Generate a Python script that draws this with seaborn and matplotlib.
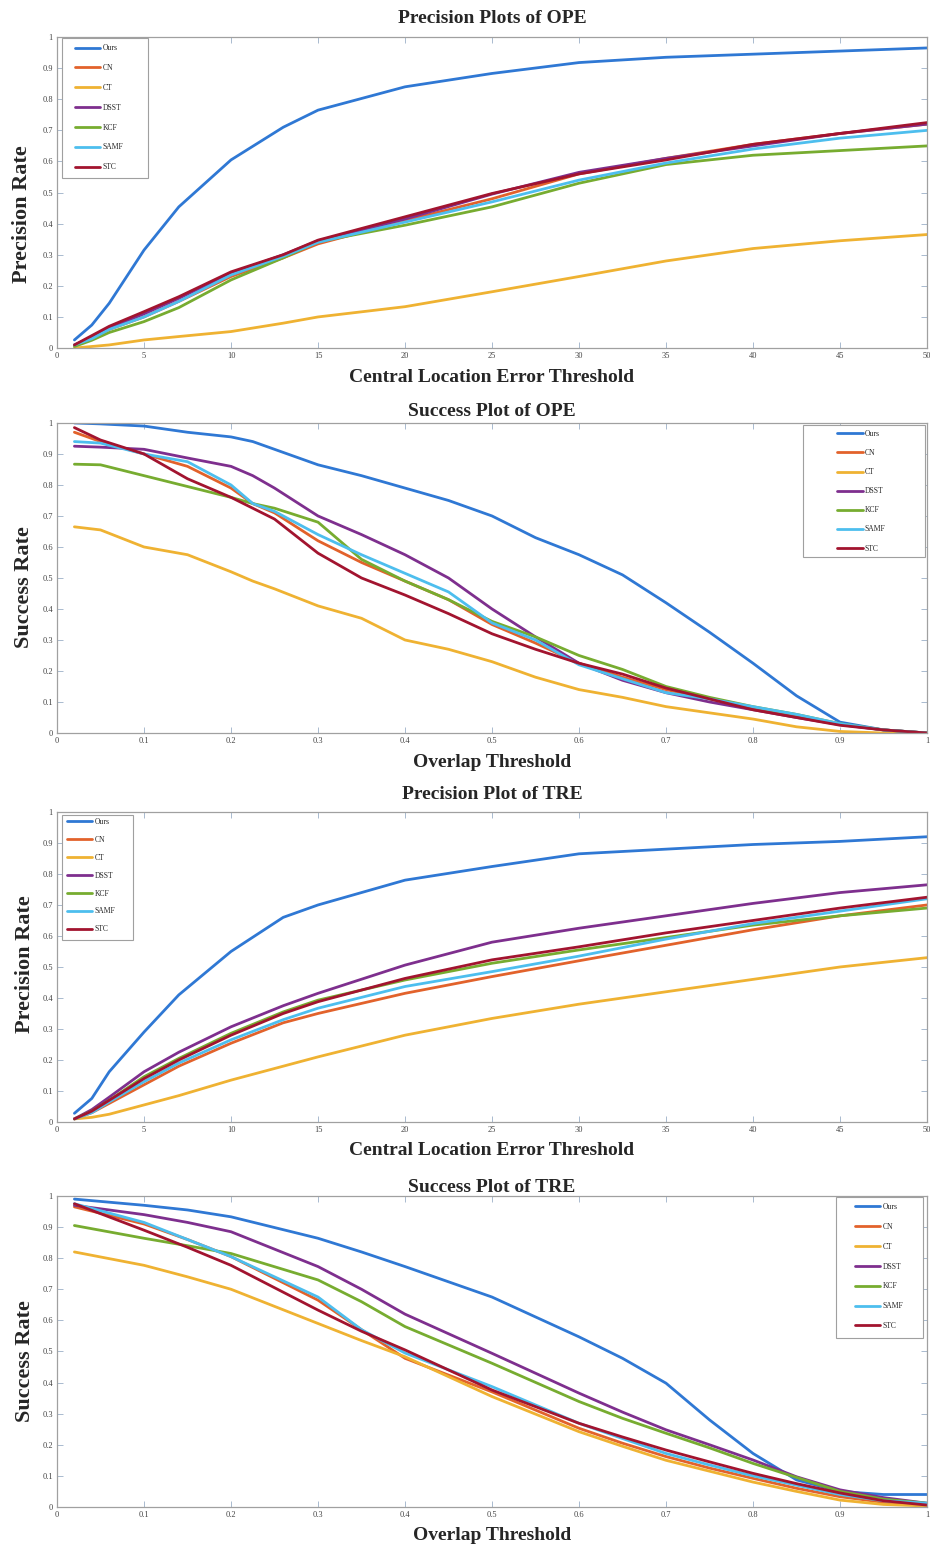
import numpy as np
import pandas as pd
import matplotlib
matplotlib.use("Agg")
import matplotlib.pyplot as plt
from matplotlib.patches import Rectangle
import seaborn as sns

trackers = ["Ours", "CN", "CT", "DSST", "KCF", "SAMF", "STC"]
colors = ["#2f78d4", "#e2622b", "#efb232", "#7e2f8e", "#77ac30", "#4dbeee", "#a2142f"]

# ---- Precision plot of OPE ----
prec_x = [1, 2, 3, 5, 7, 10, 13, 15, 20, 25, 30, 35, 40, 45, 50]
ope_prec_ours = [0.026, 0.074, 0.144, 0.315, 0.454, 0.605, 0.71, 0.765, 0.84, 0.883, 0.918, 0.935, 0.945, 0.955, 0.965]
ope_prec_cn   = [0.01, 0.03, 0.06, 0.10, 0.15, 0.23, 0.29, 0.335, 0.41, 0.48, 0.56, 0.61, 0.655, 0.69, 0.72]
ope_prec_ct   = [0.0, 0.005, 0.01, 0.026, 0.037, 0.053, 0.08, 0.10, 0.133, 0.181, 0.23, 0.28, 0.32, 0.345, 0.365]
ope_prec_dsst = [0.01, 0.035, 0.065, 0.11, 0.16, 0.24, 0.30, 0.345, 0.415, 0.495, 0.565, 0.61, 0.65, 0.69, 0.72]
ope_prec_kcf  = [0.005, 0.025, 0.05, 0.085, 0.13, 0.219, 0.29, 0.342, 0.395, 0.454, 0.53, 0.59, 0.62, 0.635, 0.65]
ope_prec_samf = [0.01, 0.03, 0.06, 0.10, 0.15, 0.235, 0.295, 0.34, 0.405, 0.47, 0.54, 0.595, 0.64, 0.675, 0.70]
ope_prec_stc  = [0.01, 0.04, 0.07, 0.117, 0.165, 0.245, 0.30, 0.347, 0.422, 0.497, 0.56, 0.605, 0.655, 0.69, 0.725]

# ---- Success plot of OPE ----
ope_succ_x = [0.02, 0.05, 0.1, 0.15, 0.2, 0.225, 0.25, 0.3, 0.35, 0.4, 0.45, 0.5, 0.55, 0.6, 0.65, 0.7, 0.75, 0.8, 0.85, 0.9, 0.95, 1.0]
ope_succ_ours = [1.0, 0.997, 0.99, 0.97, 0.955, 0.94, 0.915, 0.865, 0.83, 0.79, 0.75, 0.70, 0.63, 0.575, 0.51, 0.42, 0.325, 0.225, 0.12, 0.035, 0.01, 0.0]
ope_succ_cn   = [0.97, 0.94, 0.90, 0.86, 0.79, 0.74, 0.71, 0.62, 0.55, 0.49, 0.43, 0.35, 0.29, 0.225, 0.18, 0.14, 0.11, 0.08, 0.055, 0.028, 0.01, 0.0]
ope_succ_ct   = [0.665, 0.655, 0.60, 0.575, 0.52, 0.49, 0.465, 0.41, 0.37, 0.30, 0.27, 0.23, 0.18, 0.14, 0.115, 0.085, 0.065, 0.045, 0.02, 0.005, 0.0, 0.0]
ope_succ_dsst = [0.925, 0.922, 0.915, 0.887, 0.86, 0.83, 0.79, 0.70, 0.64, 0.575, 0.50, 0.40, 0.31, 0.225, 0.17, 0.13, 0.10, 0.075, 0.05, 0.027, 0.01, 0.0]
ope_succ_kcf  = [0.867, 0.865, 0.83, 0.795, 0.76, 0.74, 0.725, 0.68, 0.56, 0.49, 0.43, 0.36, 0.31, 0.25, 0.205, 0.15, 0.115, 0.085, 0.06, 0.03, 0.01, 0.0]
ope_succ_samf = [0.94, 0.935, 0.90, 0.875, 0.80, 0.74, 0.715, 0.64, 0.575, 0.515, 0.455, 0.355, 0.30, 0.22, 0.175, 0.13, 0.11, 0.085, 0.06, 0.03, 0.01, 0.0]
ope_succ_stc  = [0.985, 0.945, 0.90, 0.82, 0.76, 0.725, 0.69, 0.58, 0.50, 0.445, 0.385, 0.32, 0.27, 0.225, 0.19, 0.145, 0.11, 0.075, 0.05, 0.025, 0.01, 0.0]

# ---- Precision plot of TRE ----
tre_prec_ours = [0.028, 0.076, 0.162, 0.29, 0.41, 0.55, 0.66, 0.70, 0.78, 0.824, 0.865, 0.88, 0.895, 0.905, 0.92]
tre_prec_cn   = [0.01, 0.03, 0.06, 0.12, 0.18, 0.254, 0.32, 0.35, 0.415, 0.469, 0.52, 0.57, 0.62, 0.665, 0.70]
tre_prec_ct   = [0.01, 0.015, 0.025, 0.055, 0.085, 0.135, 0.18, 0.21, 0.28, 0.334, 0.38, 0.42, 0.46, 0.50, 0.53]
tre_prec_dsst = [0.01, 0.04, 0.08, 0.162, 0.225, 0.307, 0.375, 0.415, 0.506, 0.58, 0.625, 0.665, 0.705, 0.74, 0.765]
tre_prec_kcf  = [0.01, 0.035, 0.07, 0.146, 0.205, 0.286, 0.355, 0.393, 0.458, 0.512, 0.555, 0.595, 0.635, 0.665, 0.69]
tre_prec_samf = [0.01, 0.03, 0.065, 0.13, 0.19, 0.265, 0.33, 0.367, 0.437, 0.485, 0.535, 0.59, 0.64, 0.68, 0.72]
tre_prec_stc  = [0.01, 0.035, 0.07, 0.14, 0.20, 0.28, 0.35, 0.388, 0.463, 0.523, 0.565, 0.61, 0.65, 0.69, 0.725]

# ---- Success plot of TRE ----
tre_succ_x = [0.02, 0.1, 0.15, 0.2, 0.3, 0.35, 0.4, 0.5, 0.6, 0.65, 0.7, 0.75, 0.8, 0.85, 0.9, 0.95, 1.0]
tre_succ_ours = [0.99, 0.97, 0.955, 0.933, 0.864, 0.82, 0.773, 0.675, 0.547, 0.478, 0.398, 0.28, 0.172, 0.087, 0.05, 0.04, 0.04]
tre_succ_cn   = [0.965, 0.91, 0.86, 0.805, 0.665, 0.57, 0.478, 0.37, 0.253, 0.205, 0.162, 0.125, 0.092, 0.06, 0.033, 0.015, 0.006]
tre_succ_ct   = [0.82, 0.777, 0.74, 0.70, 0.59, 0.535, 0.483, 0.355, 0.242, 0.195, 0.15, 0.115, 0.08, 0.05, 0.022, 0.008, 0.003]
tre_succ_dsst = [0.97, 0.94, 0.915, 0.885, 0.773, 0.70, 0.62, 0.494, 0.366, 0.305, 0.248, 0.20, 0.151, 0.097, 0.055, 0.03, 0.012]
tre_succ_kcf  = [0.905, 0.864, 0.84, 0.815, 0.73, 0.66, 0.58, 0.462, 0.339, 0.285, 0.237, 0.19, 0.14, 0.095, 0.05, 0.025, 0.012]
tre_succ_samf = [0.975, 0.915, 0.86, 0.805, 0.675, 0.57, 0.495, 0.387, 0.269, 0.22, 0.172, 0.135, 0.10, 0.07, 0.04, 0.02, 0.012]
tre_succ_stc  = [0.975, 0.89, 0.835, 0.777, 0.633, 0.565, 0.505, 0.376, 0.269, 0.225, 0.183, 0.145, 0.108, 0.075, 0.045, 0.02, 0.006]

prec_ticks = [0, 5, 10, 15, 20, 25, 30, 35, 40, 45, 50]
succ_ticks = [0, 0.1, 0.2, 0.3, 0.4, 0.5, 0.6, 0.7, 0.8, 0.9, 1]
y_ticks = [0, 0.1, 0.2, 0.3, 0.4, 0.5, 0.6, 0.7, 0.8, 0.9, 1]

sns.set_theme(style="white")
plt.rcParams["font.family"] = ["Liberation Serif", "DejaVu Serif"]

fig = plt.figure(figsize=(9.3, 15.51), dpi=100)

# box = (x0, y0, x1, y1) of legend frame in axes coords; anchor = top-left of legend entries
panels = [
    dict(pos=[0.0613, 0.7756, 0.9355, 0.2005], x=prec_x,
         ys=[ope_prec_ours, ope_prec_cn, ope_prec_ct, ope_prec_dsst, ope_prec_kcf, ope_prec_samf, ope_prec_stc],
         title="Precision Plots of OPE", xlabel="Central Location Error Threshold", ylabel="Precision Rate",
         xticks=prec_ticks, xlim=(0, 50), tpad=10, ylab=(-0.029, 0.43),
         box=(0.0057, 0.547, 0.1046, 0.997), anchor=(0.0207, 0.977), lsp=1.55),
    dict(pos=[0.0613, 0.5274, 0.9355, 0.1999], x=ope_succ_x,
         ys=[ope_succ_ours, ope_succ_cn, ope_succ_ct, ope_succ_dsst, ope_succ_kcf, ope_succ_samf, ope_succ_stc],
         title="Success Plot of OPE", xlabel="Overlap Threshold", ylabel="Success Rate",
         xticks=succ_ticks, xlim=(0, 1), tpad=5, ylab=(-0.027, 0.47),
         box=(0.857, 0.568, 0.998, 0.994), anchor=(0.897, 0.977), lsp=1.45),
    dict(pos=[0.0613, 0.2766, 0.9355, 0.1999], x=prec_x,
         ys=[tre_prec_ours, tre_prec_cn, tre_prec_ct, tre_prec_dsst, tre_prec_kcf, tre_prec_samf, tre_prec_stc],
         title="Precision Plot of TRE", xlabel="Central Location Error Threshold", ylabel="Precision Rate",
         xticks=prec_ticks, xlim=(0, 50), tpad=9, ylab=(-0.025, 0.51),
         box=(0.0057, 0.587, 0.0874, 0.990), anchor=(0.0115, 0.981), lsp=1.3),
    dict(pos=[0.0613, 0.0284, 0.9355, 0.2005], x=tre_succ_x,
         ys=[tre_succ_ours, tre_succ_cn, tre_succ_ct, tre_succ_dsst, tre_succ_kcf, tre_succ_samf, tre_succ_stc],
         title="Success Plot of TRE", xlabel="Overlap Threshold", ylabel="Success Rate",
         xticks=succ_ticks, xlim=(0, 1), tpad=3, ylab=(-0.025, 0.47),
         box=(0.8954, 0.543, 0.9954, 0.997), anchor=(0.917, 0.977), lsp=1.55),
]

for p in panels:
    ax = fig.add_axes(p["pos"])
    for name, col, yv in zip(trackers, colors, p["ys"]):
        sns.lineplot(x=p["x"], y=yv, ax=ax, color=col, linewidth=2.0, label=name)
    ax.set_xlim(*p["xlim"])
    ax.set_ylim(0, 1)
    ax.set_xticks(p["xticks"])
    ax.set_xticklabels([f"{t:g}" for t in p["xticks"]], fontsize=6, color="#444444")
    ax.set_yticks(y_ticks)
    ax.set_yticklabels([f"{t:g}" for t in y_ticks], fontsize=6, color="#444444")
    ax.tick_params(direction="in", length=4, width=0.6, top=True, right=True, bottom=True, left=True,
                   color="#9bb0c8", pad=3)
    for s in ax.spines.values():
        s.set_color("#a0a0a0")
        s.set_linewidth(0.9)
    ax.set_title(p["title"], fontsize=14, fontweight="bold", pad=p["tpad"])
    ax.set_xlabel(p["xlabel"], fontsize=14, fontweight="bold", labelpad=6)
    ax.set_ylabel(p["ylabel"], fontsize=16, fontweight="bold")
    ax.yaxis.set_label_coords(*p["ylab"])
    bx0, by0, bx1, by1 = p["box"]
    ax.add_patch(Rectangle((bx0, by0), bx1 - bx0, by1 - by0, transform=ax.transAxes,
                           facecolor="white", edgecolor="#a0a0a0", linewidth=0.8, zorder=4.5))
    leg = ax.legend(loc="upper left", bbox_to_anchor=p["anchor"], fontsize=5.5,
                    frameon=False, handlelength=3.3, labelspacing=p["lsp"],
                    borderpad=0.0, handletextpad=0.3, borderaxespad=0.0)
    leg.set_zorder(5)

fig.savefig("out.png", dpi=100)
